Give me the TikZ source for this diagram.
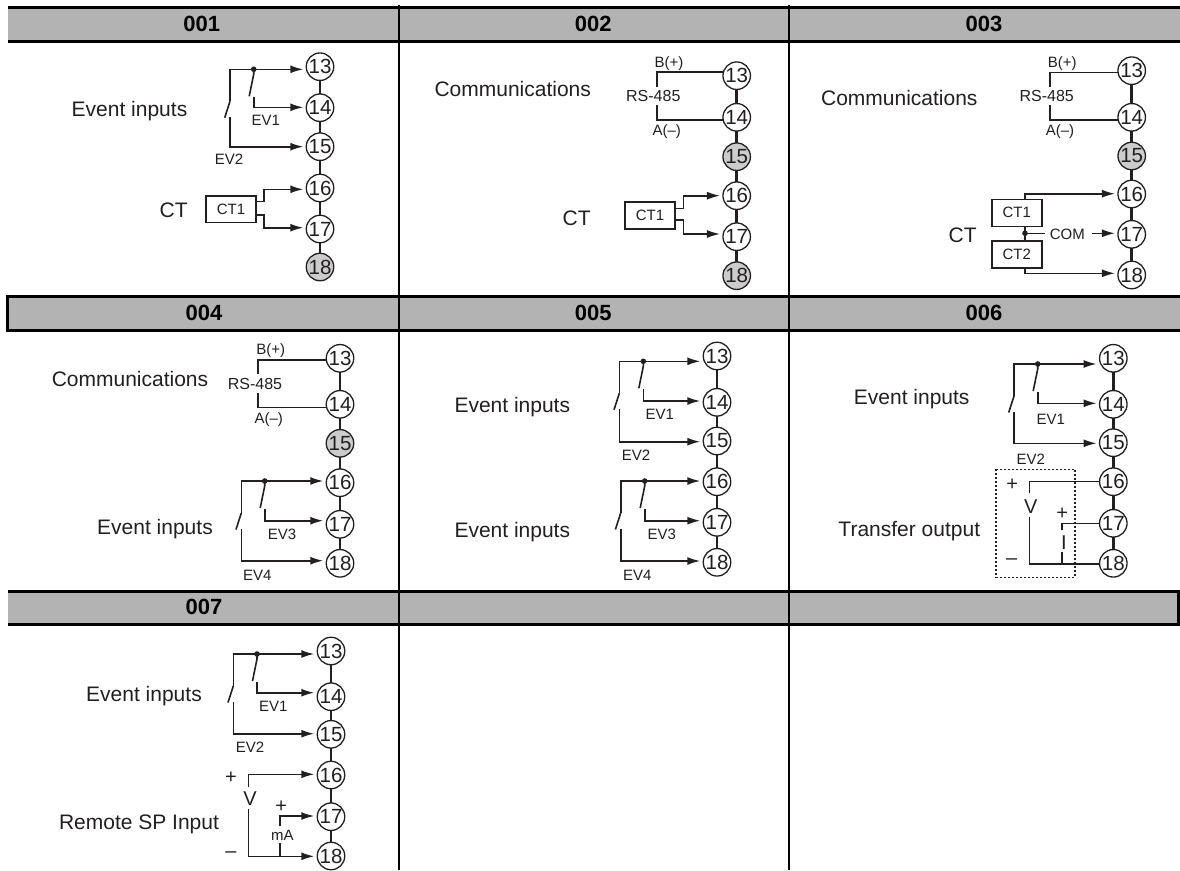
\documentclass[tikz,border=0pt]{standalone}
\usepackage{fontspec}
\setmainfont{Liberation Sans}
\usetikzlibrary{arrows.meta}
\definecolor{hdr}{HTML}{B3B3B3}
\definecolor{ink}{HTML}{231F20}
\tikzset{
  wire/.style={draw=ink,line width=1.6pt},
  arrowwire/.style={wire,-{Latex[length=13pt,width=8pt]},shorten >=3pt},
  link/.style={draw=ink,line width=2.6pt},
  termw/.style={circle,draw=ink,fill=white,line width=1.3pt,minimum size=27.5pt,inner sep=0pt,outer sep=0pt,font=\fontsize{20.5}{20.5}\selectfont,text=ink},
  termg/.style={termw,fill=black!20},
  biglabel/.style={inner sep=0pt,text=ink,font=\fontsize{21}{21}\selectfont},
  smalllabel/.style={inner sep=0pt,text=ink,font=\fontsize{15}{15}\selectfont},
  midlabel/.style={inner sep=0pt,text=ink,font=\fontsize{16}{16}\selectfont},
  signlabel/.style={inner sep=0pt,text=ink,font=\fontsize{20}{20}\selectfont},
  headlabel/.style={inner sep=0pt,text=black,font=\bfseries\fontsize{22}{22}\selectfont},
  ctbox/.style={draw=ink,line width=1.6pt,fill=white,inner sep=0pt,outer sep=0pt,anchor=north west,text=ink,font=\fontsize{15}{15}\selectfont},
  rule/.style={draw=black,line width=2.8pt},
  colrule/.style={draw=black,line width=2pt},
  dotbox/.style={draw=ink,line width=1.6pt,dash pattern=on 2pt off 2pt},
}
% terminal stack: prefix, x, list of number/y/style
\newcommand{\tstack}[3]{%
  \foreach \n/\yy/\st in {#3}{\node[\st] (#1\n) at (#2,\yy) {\n};}
  \draw[link] (#113)--(#114);
  \draw[link] (#114)--(#115);
  \draw[link] (#115)--(#116);
  \draw[link] (#116)--(#117);
  \draw[link] (#117)--(#118);
}
% event block: xl, xj, top, mid, bot, T1, T2, T3
\newcommand{\evb}[8]{%
  \fill[ink] (#2,#3) circle (2.8pt);
  \draw[wire] (#1,#3+32) -- (#1,#3) -- (#2,#3);
  \draw[arrowwire] (#1,#3) -- (#6.west |- 0,#3);
  \draw[wire] (#2,#3) -- (#2,#3+5) -- (#2-4.5,#3+27);
  \draw[wire] (#1,#3+32) -- (#1-5.3,#3+48.5);
  \draw[arrowwire] (#2,#3+28) -- (#2,#4) -- (#7.west |- 0,#4);
  \draw[arrowwire] (#1,#3+48) -- (#1,#5) -- (#8.west |- 0,#5);
}
\begin{document}
\begin{tikzpicture}[x=1pt,y=-1pt]
\useasboundingbox (0,0) rectangle (1180,870);
% header bands
\fill[hdr] (8,7.3) rectangle (1180,41.3);
\fill[hdr] (7.3,296.3) rectangle (1180,330.5);
\fill[hdr] (8,591.3) rectangle (1180,624.5);
\draw[rule] (8,7.3) -- (1180,7.3);
\draw[rule] (8,41.3) -- (1180,41.3);
\draw[rule] (1180,296.3) -- (7.3,296.3) -- (7.3,330.5) -- (1180,330.5);
\draw[rule] (8,591.3) -- (1178.6,591.3) -- (1178.6,624.5) -- (8,624.5);
\draw[colrule] (399,5) -- (399,870);
\draw[colrule] (789,5) -- (789,870);
\node[headlabel] (h1) at (201.7,23.5) {001};
\node[headlabel] (h2) at (593.3,23.5) {002};
\node[headlabel] (h3) at (984,23.5) {003};
\node[headlabel] (h4) at (204,312.5) {004};
\node[headlabel] (h5) at (593.3,312.5) {005};
\node[headlabel] (h6) at (984,312.5) {006};
\node[headlabel] (h7) at (204,607) {007};

% ---------- 001
\tstack{a}{320}{13/66.7/termw,14/107.7/termw,15/146.7/termw,16/188/termw,17/229/termw,18/267/termg}
\evb{230}{253.7}{69.3}{107.3}{146.7}{a13}{a14}{a15}
\node[biglabel] (aev) at (129.5,111) {Event inputs};
\node[smalllabel] (aev1) at (265.7,120) {EV1};
\node[smalllabel] (aev2) at (229,159) {EV2};
\node[biglabel] (act) at (173.7,210.7) {CT};
\node[ctbox,minimum width=50pt,minimum height=26.6pt] (acb) at (206,195.7) {CT1};
\draw[arrowwire] (acb.east |- 0,201.3) -- (264,201.3) -- (264,189.3) -- (a16.west |- 0,189.3);
\draw[arrowwire] (acb.east |- 0,215) -- (264,215) -- (264,227.7) -- (a17.west |- 0,227.7);

% ---------- 002
\tstack{b}{736.7}{13/75.7/termw,14/117.3/termw,15/156.7/termg,16/195.7/termw,17/236.7/termw,18/275.7/termg}
\node[biglabel] (bcom) at (512.7,89.3) {Communications};
\node[smalllabel] (bbp) at (669,64) {B(+)};
\node[midlabel] (brs) at (653.3,95.7) {RS-485};
\node[smalllabel] (bam) at (666.7,131.3) {A(–)};
\draw[wire] (656.7,87.3) -- (656.7,71.7) -- (b13.west |- 0,71.7);
\draw[wire] (656.7,105) -- (656.7,119.7) -- (b14.west |- 0,119.7);
\node[biglabel] (bct) at (576.7,218) {CT};
\node[ctbox,minimum width=50pt,minimum height=27pt] (bcb) at (625,201.7) {CT1};
\draw[arrowwire] (bcb.east |- 0,208.3) -- (683.3,208.3) -- (683.3,195.7) -- (b16.west |- 0,195.7);
\draw[arrowwire] (bcb.east |- 0,220) -- (683.3,220) -- (683.3,234) -- (b17.west |- 0,234);

% ---------- 003
\tstack{c}{1131.7}{13/70.7/termw,14/117.3/termw,15/156/termg,16/194/termw,17/234.3/termw,18/275/termw}
\node[biglabel] (ccom) at (899.3,98.3) {Communications};
\node[smalllabel] (cbp) at (1062.3,64) {B(+)};
\node[midlabel] (crs) at (1046.7,96) {RS-485};
\node[smalllabel] (cam) at (1060,131.3) {A(–)};
\draw[wire] (1049.7,86.7) -- (1049.7,72.3) -- (c13.west |- 0,72.3);
\draw[wire] (1049.7,105.3) -- (1049.7,119.7) -- (c14.west |- 0,119.7);
\node[biglabel] (cct) at (962.7,235.7) {CT};
\node[ctbox,minimum width=50pt,minimum height=27pt] (cb1) at (991.7,199.3) {CT1};
\node[ctbox,minimum width=50pt,minimum height=27pt] (cb2) at (991.7,240.7) {CT2};
\coordinate (cjn) at (1025,233.3);
\coordinate (cjw) at (1045,233.3);
\coordinate (cje) at (1091.7,233.3);
\draw[wire] (cb1.south -| cjn) -- (cb2.north -| cjn);
\fill[ink] (cjn) circle (2.8pt);
\node[smalllabel] (ccm) at (1067.3,234.3) {COM};
\draw[wire] (cjn) -- (cjw);
\draw[arrowwire] (cje) -- (c17.west |- cje);
\draw[arrowwire] (cb1.north -| cjn) -- (1025,193.7) -- (c16.west |- 0,193.7);
\draw[arrowwire] (cb2.south -| cjn) -- (1025,273.3) -- (c18.west |- 0,273.3);

% ---------- 004
\tstack{d}{340}{13/358.3/termw,14/404.3/termw,15/443.3/termg,16/482.7/termw,17/524.3/termw,18/563.3/termw}
\node[biglabel] (dcom) at (130,379.3) {Communications};
\node[smalllabel] (dbp) at (270.7,351) {B(+)};
\node[midlabel] (drs) at (255,384) {RS-485};
\node[smalllabel] (dam) at (268.7,420) {A(–)};
\draw[wire] (258,374) -- (258,360) -- (d13.west |- 0,360);
\draw[wire] (258,393.3) -- (258,407.3) -- (d14.west |- 0,407.3);
\evb{241.3}{264.7}{481}{520.7}{560.7}{d16}{d17}{d18}
\node[biglabel] (dev) at (155,529.3) {Event inputs};
\node[smalllabel] (dev3) at (282,534.3) {EV3};
\node[smalllabel] (dev4) at (257.3,575) {EV4};

% ---------- 005
\tstack{e}{717}{13/356/termw,14/402.3/termw,15/441/termw,16/481.7/termw,17/522.3/termw,18/562.3/termw}
\evb{619.3}{643.3}{361.3}{401}{441.7}{e13}{e14}{e15}
\evb{620.7}{644.7}{481}{520.7}{561}{e16}{e17}{e18}
\node[biglabel] (eev) at (512.3,407.3) {Event inputs};
\node[biglabel] (eew) at (512.3,531.7) {Event inputs};
\node[smalllabel] (eev1) at (659.7,414) {EV1};
\node[smalllabel] (eev2) at (636,455.7) {EV2};
\node[smalllabel] (eev3) at (661.7,534.3) {EV3};
\node[smalllabel] (eev4) at (637.3,575) {EV4};

% ---------- 006
\tstack{f}{1113.3}{13/358.3/termw,14/404.3/termw,15/442.7/termw,16/481.7/termw,17/523.3/termw,18/563.3/termw}
\evb{1014}{1037.7}{364}{403.3}{443.3}{f13}{f14}{f15}
\node[biglabel] (fev) at (911.7,399) {Event inputs};
\node[smalllabel] (fev1) at (1050.7,419) {EV1};
\node[smalllabel] (fev2) at (1030.7,459) {EV2};
\node[biglabel] (ftr) at (909.3,531) {Transfer output};
\draw[dotbox] (996,469.3) rectangle (1075,577.3);
\node[signlabel] (fp1) at (1012.3,484.3) {+};
\node[signlabel] (fv) at (1030.7,506.7) {V};
\node[signlabel] (fp2) at (1062.3,514) {+};
\node[signlabel] (fi) at (1064,542.3) {I};
\node[signlabel] (fm) at (1011.7,561.7) {–};
\draw[wire] (1029.3,493.3) -- (1029.3,481.3) -- (f16.west |- 0,481.3);
\draw[wire] (1029.3,516.7) -- (1029.3,564) -- (f18.west |- 0,564);
\draw[wire] (1061.7,530) -- (1061.7,523.3) -- (f17.west |- 0,523.3);
\draw[wire] (1061.7,551.7) -- (1061.7,564);

% ---------- 007
\tstack{g}{331}{13/651/termw,14/696.7/termw,15/734.3/termw,16/775/termw,17/816.7/termw,18/856/termw}
\evb{233.3}{257}{654}{692.7}{733.7}{g13}{g14}{g15}
\node[biglabel] (gev) at (144,696) {Event inputs};
\node[smalllabel] (gev1) at (273.3,706) {EV1};
\node[smalllabel] (gev2) at (250,747.3) {EV2};
\node[biglabel] (grm) at (139,824) {Remote SP Input};
\node[signlabel] (gp1) at (231,777.3) {+};
\node[signlabel] (gv) at (250,798.7) {V};
\node[signlabel] (gp2) at (281.3,806.7) {+};
\node[smalllabel] (gma) at (282.3,835.7) {mA};
\node[signlabel] (gm) at (231,854.3) {–};
\draw[arrowwire] (248.3,786.7) -- (248.3,774.3) -- (g16.west |- 0,774.3);
\draw[arrowwire] (248.3,809.3) -- (248.3,856.3) -- (g18.west |- 0,856.3);
\draw[arrowwire] (280,826) -- (280,816) -- (g17.west |- 0,816);
\draw[wire] (280,842.7) -- (280,856.3);
\end{tikzpicture}
\end{document}
